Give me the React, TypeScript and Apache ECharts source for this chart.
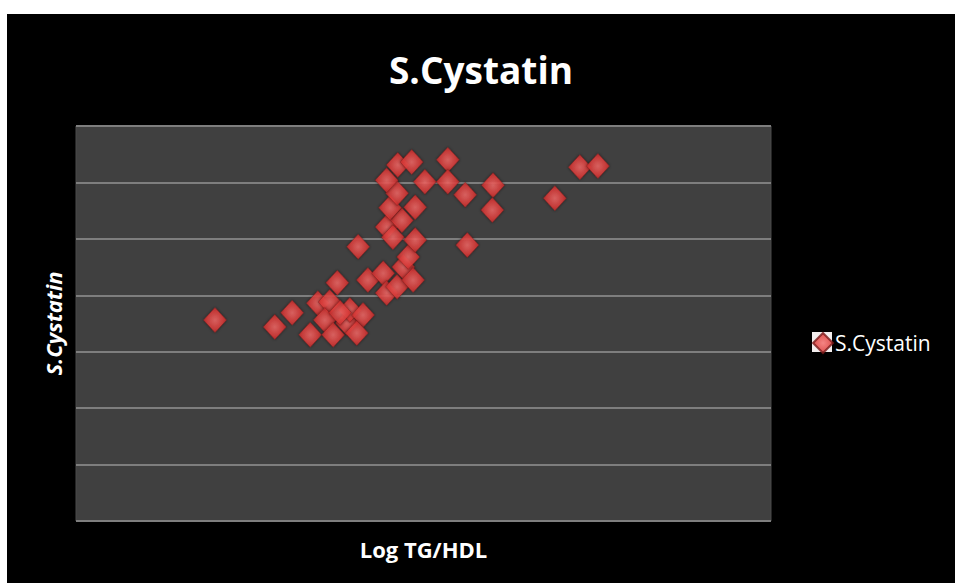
import React, { useEffect, useRef } from "react";
import * as echarts from "echarts";

const seriesName = "S.Cystatin";
const titleText = "S.Cystatin";
const xAxisName = "Log TG/HDL";
const yAxisName = "S.Cystatin";

const xValues = [
  2.0, 2.86, 3.11, 3.37, 3.48, 3.76, 3.65, 3.58, 3.7, 3.9, 3.94, 4.13, 4.04, 3.8,
  4.2, 4.42, 4.47, 4.62, 4.71, 4.85, 4.78, 4.06, 4.47, 4.56, 4.88, 4.69, 4.52, 4.88,
  4.62, 4.47, 4.63, 4.83, 5.02, 5.35, 5.35, 5.6, 6.0, 5.99, 5.63, 6.89, 7.25, 7.51,
];
const yValues = [
  3.56, 3.44, 3.69, 3.3, 3.86, 4.22, 3.88, 3.56, 3.3, 3.51, 3.74, 3.65, 3.33, 3.69,
  4.27, 4.39, 4.04, 4.15, 4.5, 4.27, 4.68, 4.86, 5.21, 5.03, 4.98, 5.33, 5.55, 5.56,
  5.81, 6.04, 6.31, 6.36, 6.01, 6.4, 6.01, 5.78, 5.95, 5.51, 4.89, 5.72, 6.27, 6.29,
];

export default function App() {
  const ref = useRef<HTMLDivElement>(null);
  useEffect(() => {
    if (!ref.current) return;
    const chart = echarts.init(ref.current, null, { renderer: "svg" });
    const data = xValues.map((x, i) => [x, yValues[i]]);
    const font = "'Open Sans', sans-serif";
    chart.setOption({
      animation: false,
      backgroundColor: "#000000",
      title: {
        text: titleText,
        left: "center",
        top: 32,
        textStyle: { color: "#ffffff", fontSize: 37, fontWeight: "bold", fontFamily: font },
      },
      legend: {
        data: [seriesName],
        left: 805,
        top: 318,
        padding: 0,
        itemGap: 0,
        itemWidth: 20,
        itemHeight: 20,
        icon: "diamond",
        textStyle: { color: "#ffffff", fontSize: 21, fontFamily: font, padding: [0, 0, 0, -3] },
      },
      graphic: [
        {
          type: "rect",
          left: 805,
          top: 318,
          z: 1,
          shape: { width: 20, height: 20 },
          style: { fill: "#f4eeee" },
        },
      ],
      grid: {
        left: 69,
        top: 112,
        right: 184,
        bottom: 62,
        show: true,
        backgroundColor: "#404040",
        borderColor: "#4a4a4a",
        borderWidth: 1,
      },
      xAxis: {
        type: "value",
        min: 0,
        max: 10,
        name: xAxisName,
        nameLocation: "middle",
        nameGap: 17,
        nameTextStyle: { color: "#ffffff", fontSize: 22, fontWeight: "bold", fontFamily: font },
        axisLine: { show: false },
        axisTick: { show: false },
        axisLabel: { show: false },
        splitLine: { show: false },
      },
      yAxis: {
        type: "value",
        min: 0,
        max: 7,
        interval: 1,
        name: yAxisName,
        nameLocation: "middle",
        nameGap: 12,
        nameTextStyle: {
          color: "#ffffff",
          fontSize: 22,
          fontWeight: "bold",
          fontStyle: "italic",
          fontFamily: font,
        },
        axisLine: { show: false },
        axisTick: { show: false },
        axisLabel: { show: false },
        splitLine: { show: true, lineStyle: { color: "#7e7e7e", width: 2 } },
      },
      series: [
        {
          name: seriesName,
          type: "scatter",
          symbol: "diamond",
          symbolSize: [23, 25],
          data,
          itemStyle: {
            color: new echarts.graphic.RadialGradient(0.5, 0.5, 0.6, [
              { offset: 0, color: "#f46a68" },
              { offset: 0.6, color: "#e03c3a" },
              { offset: 1, color: "#b22222" },
            ]),
            borderColor: "#7a1a1a",
            borderWidth: 0.5,
            shadowBlur: 3,
            shadowColor: "rgba(0,0,0,0.6)",
          },
        },
      ],
    });
    return () => chart.dispose();
  }, []);
  return (
    <div
      ref={ref}
      style={{ position: "absolute", left: 7, top: 14, width: 948, height: 569 }}
    />
  );
}
